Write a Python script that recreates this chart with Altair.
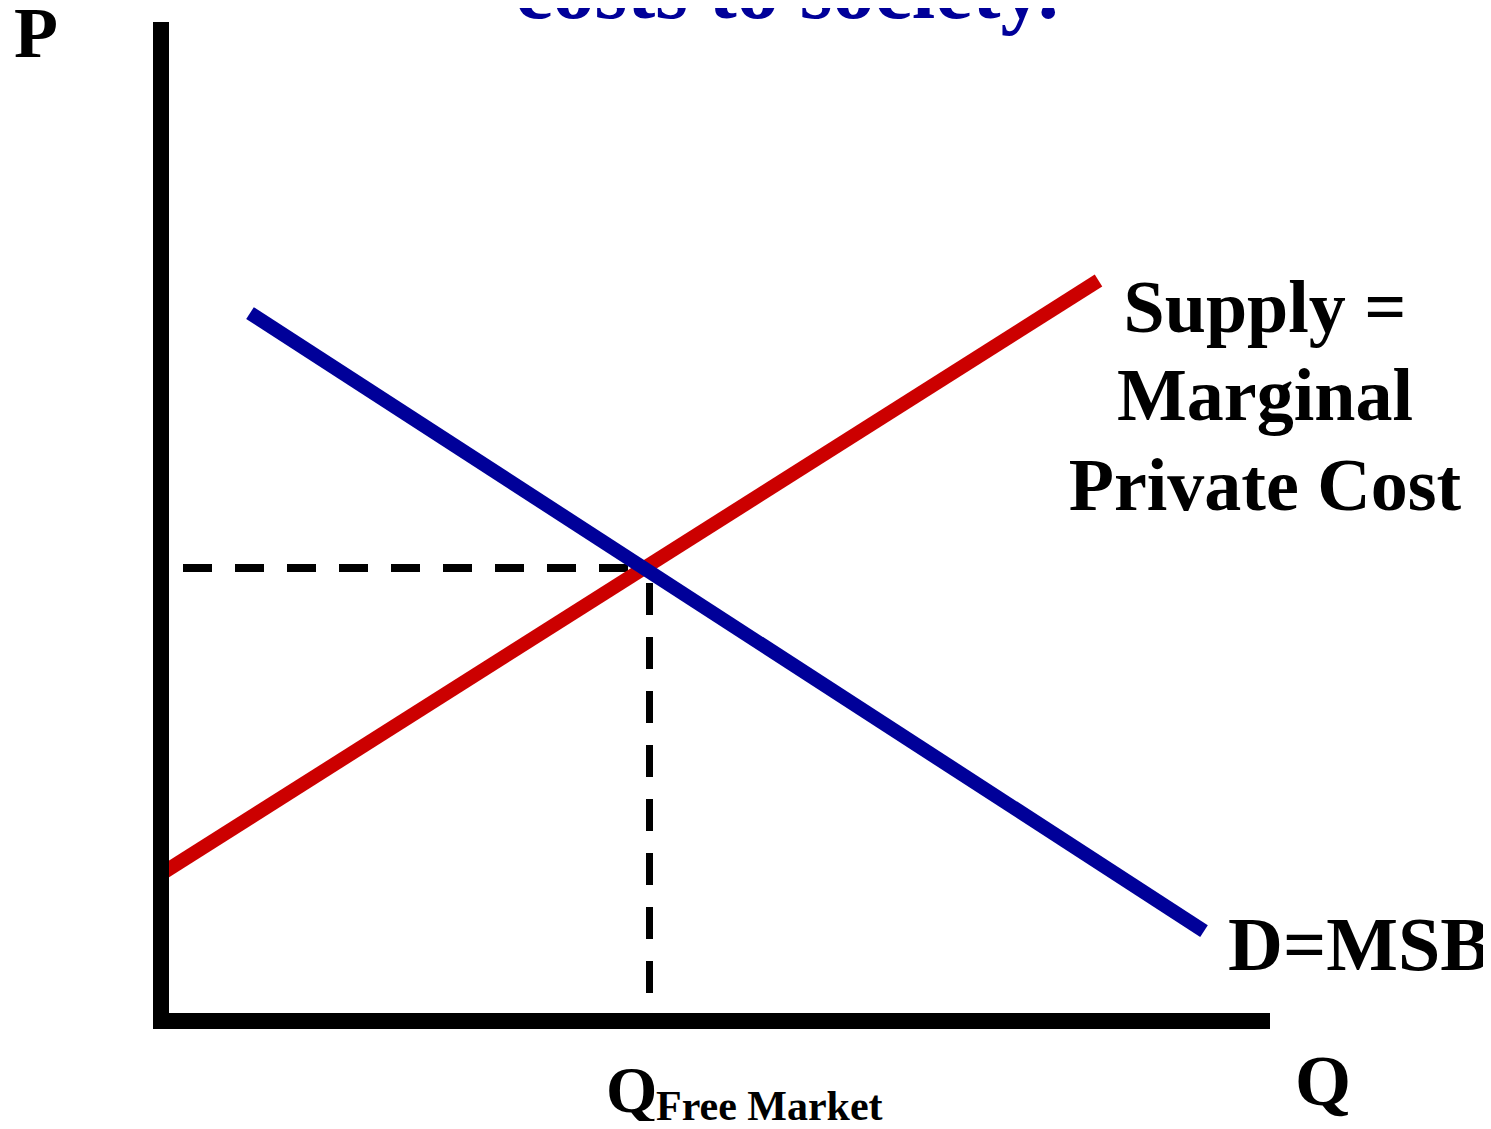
import altair as alt
import pandas as pd

# Curves (Q, P) in chart units
supply_q = [0.0, 9.375]
supply_p = [1.47, 7.405]
demand_q = [0.89, 10.43]
demand_p = [7.08, 0.90]

# Free-market equilibrium guides
hdash_q = [0.22, 4.88]
hdash_p = [4.53, 4.53]
vdash_q = [4.885, 4.885]
vdash_p = [0.28, 4.53]

# Axis lines
yaxis_q = [0.0]
yaxis_p = [-0.08]
yaxis_p2 = [9.99]
xaxis_q = [-0.08]
xaxis_q2 = [11.09]
xaxis_p = [0.0]

# Text labels
axis_labels = ["P", "Q"]
axis_lab_q = [-1.47, 11.34]
axis_lab_p = [9.64, -0.84]

qfm_labels = ["Q"]
qfm_q = [4.45]
qfm_p = [-0.91]

sub_labels = ["Free Market"]
sub_q = [4.95]
sub_p = [-0.99]

curve_labels = ["D=MSB"]
curve_lab_q = [10.67]
curve_lab_p = [0.51]

supply_lines = ["Supply =", "Marginal", "Private Cost"]
supply_lab_q = [11.04, 11.04, 11.04]
supply_lab_p = [6.89, 6.01, 5.11]

title_text = ["costs to society."]
title_q = [6.26]
title_p = [10.03]

XS = alt.Scale(domain=[-1.53, 13.22], nice=False, zero=False)
YS = alt.Scale(domain=[-1.00, 10.13], nice=False, zero=False)
FONT = "Liberation Serif"


def X(f="q"):
    return alt.X(f"{f}:Q", scale=XS, axis=None)


def Y(f="p"):
    return alt.Y(f"{f}:Q", scale=YS, axis=None)


def text_layer(labels, qs, ps, size, align="left", color="black"):
    return alt.Chart(pd.DataFrame({"t": labels, "q": qs, "p": ps})).mark_text(
        font=FONT, fontWeight="bold", fontSize=size, align=align,
        baseline="alphabetic", color=color
    ).encode(x=X(), y=Y(), text="t:N")


supply = alt.Chart(pd.DataFrame({"q": supply_q, "p": supply_p})).mark_line(
    color="#cc0000", strokeWidth=14, strokeCap="butt"
).encode(x=X(), y=Y())

demand = alt.Chart(pd.DataFrame({"q": demand_q, "p": demand_p})).mark_line(
    color="#000099", strokeWidth=14, strokeCap="butt"
).encode(x=X(), y=Y())

hdash = alt.Chart(pd.DataFrame({"q": hdash_q, "p": hdash_p})).mark_line(
    color="black", strokeWidth=8, strokeDash=[29, 23], strokeCap="butt"
).encode(x=X(), y=Y())

vdash = alt.Chart(pd.DataFrame({"q": vdash_q, "p": vdash_p, "o": [0, 1]})).mark_line(
    color="black", strokeWidth=7, strokeDash=[32, 22], strokeCap="butt"
).encode(x=X(), y=Y(), order="o:Q")

yaxis = alt.Chart(pd.DataFrame({"q": yaxis_q, "p": yaxis_p, "p2": yaxis_p2})).mark_rule(
    color="black", strokeWidth=16, strokeCap="butt"
).encode(x=X(), y=Y(), y2="p2:Q")

xaxis = alt.Chart(pd.DataFrame({"q": xaxis_q, "q2": xaxis_q2, "p": xaxis_p})).mark_rule(
    color="black", strokeWidth=16, strokeCap="butt"
).encode(x=X(), x2="q2:Q", y=Y())

chart = alt.layer(
    hdash, vdash, supply, demand, yaxis, xaxis,
    text_layer(axis_labels, axis_lab_q, axis_lab_p, 72),
    text_layer(qfm_labels, qfm_q, qfm_p, 66),
    text_layer(sub_labels, sub_q, sub_p, 42),
    text_layer(curve_labels, curve_lab_q, curve_lab_p, 76),
    text_layer(supply_lines, supply_lab_q, supply_lab_p, 74, align="center"),
    text_layer(title_text, title_q, title_p, 84, align="center", color="#000099"),
).properties(
    width=1475, height=1113,
    autosize=alt.AutoSizeParams(type="none"),
    padding=0,
).configure_view(stroke=None)

chart.save("out.html", embed_options={"renderer": "svg", "actions": False})
